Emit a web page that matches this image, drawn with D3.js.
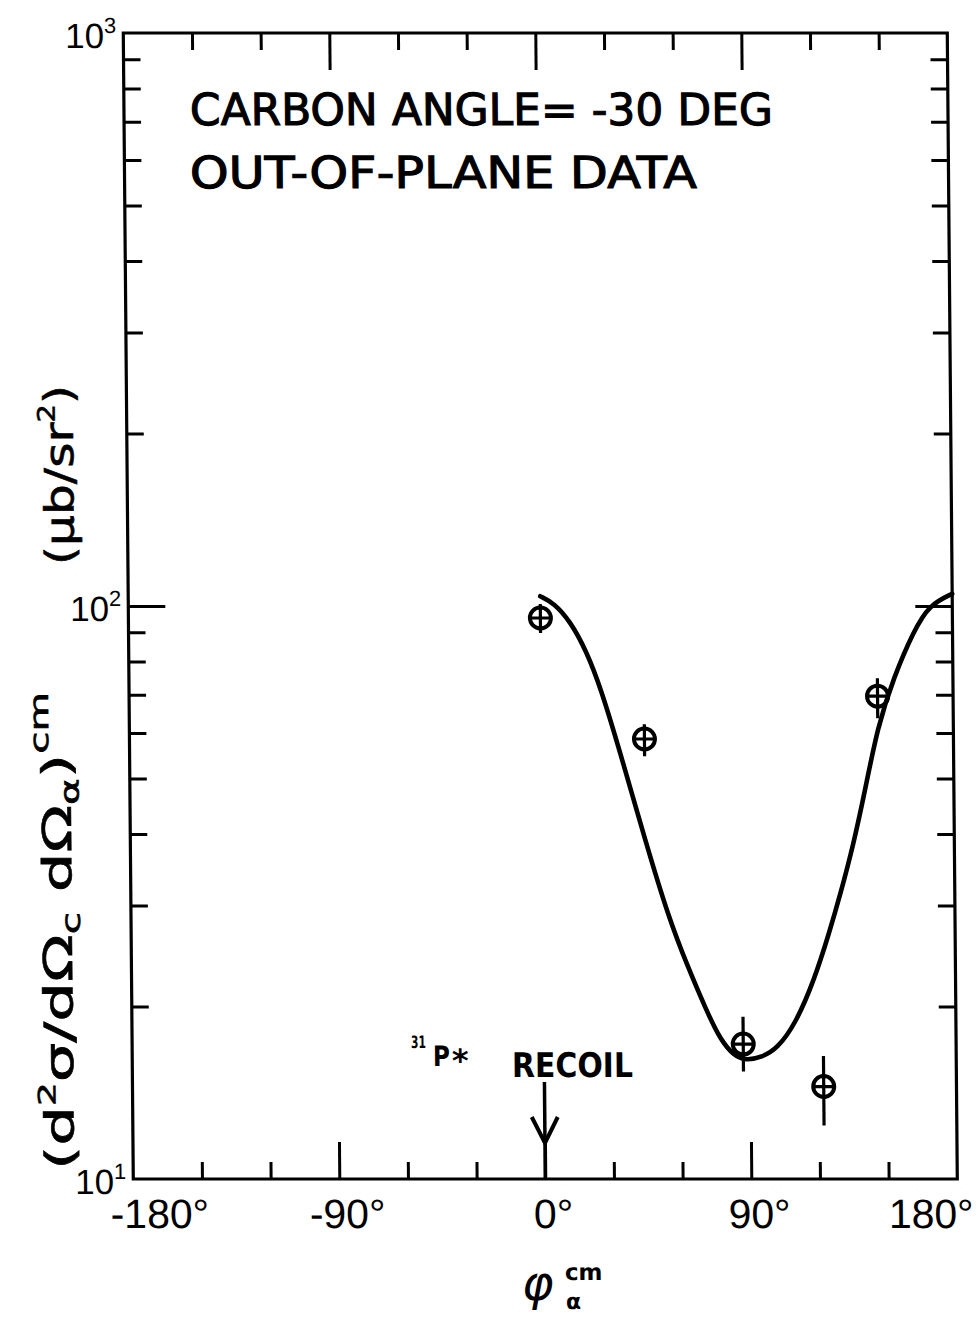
<!DOCTYPE html>
<html>
<head>
<meta charset="utf-8">
<script src="https://cdn.jsdelivr.net/npm/d3@7"></script>
<style>
  body { margin: 0; background: #fff; }
  svg { display: block; }
</style>
</head>
<body>
<svg id="chart" width="980" height="1318"></svg>
<script>
// Measured out-of-plane correlation data (phi in degrees, cross section in ub/sr^2)
const phiDeg    = [0, 45, 87, 122, 147];
const sigma     = [95.3, 58.6, 17.2, 14.5, 69.6];
const sigmaLo   = [89.7, 54.7, 15.4, 12.4, 63.7];
const sigmaHi   = [100.8, 62.2, 19.2, 16.4, 74.8];

// Theoretical curve
const curvePhi   = [0, 6, 13, 20, 26, 34, 45, 55, 63, 71, 77, 83, 88,
                    95, 102, 110, 118, 125, 130, 136, 141, 147, 154, 163, 170, 180];
const curveSigma = [104.0, 101.2, 94.1, 83.4, 72.1, 56.2, 38.9, 28.5, 23.5, 19.7, 17.5, 16.4, 16.1,
                    16.3, 16.9, 18.7, 22.1, 26.9, 31.4, 38.5, 47.3, 61.7, 74.8, 90.4, 100.5, 105.0];

// Axes
const xDomain      = [-180, 180];
const xMajorTicks  = [-90, 0, 90];
const xMinorTicks  = [-150, -120, -60, -30, 30, 60, 120, 150];
const xTickLabels  = [-180, -90, 0, 90, 180];
const yDomain      = [10, 1000];
const yDecadeTicks = [100];
const yMinorTicks  = [20, 30, 40, 50, 60, 70, 80, 90, 200, 300, 400, 500, 600, 700, 800, 900];
const yTickLabels  = [{ base: "10", exp: "1", v: 10 }, { base: "10", exp: "2", v: 100 }, { base: "10", exp: "3", v: 1000 }];

// Annotations
const titleLines = ["CARBON ANGLE= -30 DEG", "OUT-OF-PLANE DATA"];
const recoilPhi  = 0;
const recoilText = "RECOIL";

// The whole sheet leans very slightly to the right
const SKEW = 0.5;
const K = Math.tan(SKEW * Math.PI / 180);
const ux = (xa, ya) => xa - K * ya;

const svg = d3.select("#chart");
svg.append("rect").attr("width", 980).attr("height", 1318).attr("fill", "#fff");
const g = svg.append("g").attr("transform", `skewX(${SKEW})`);

const x = d3.scaleLinear().domain(xDomain).range([123, 947]);
const y = d3.scaleLog().domain(yDomain).range([1179, 33]);

const INK = "#000";

// ---- ticks (all pointing inward) ----
function styleAxis(sel) {
  sel.select(".domain").remove();
  sel.selectAll(".tick line").attr("stroke", INK).attr("stroke-width", 3);
  sel.selectAll(".tick text").remove();
}
const MINOR = 17, MAJOR = 37;
[[xMinorTicks, MINOR], [xMajorTicks, MAJOR]].forEach(([vals, len]) => {
  g.append("g").attr("transform", `translate(0,${y(yDomain[0])})`)
    .call(d3.axisBottom(x).tickValues(vals).tickSize(-len).tickFormat(""))
    .call(styleAxis);
  g.append("g").attr("transform", `translate(0,${y(yDomain[1])})`)
    .call(d3.axisTop(x).tickValues(vals).tickSize(-len).tickFormat(""))
    .call(styleAxis);
});
[[yMinorTicks, MINOR], [yDecadeTicks, MAJOR]].forEach(([vals, len]) => {
  g.append("g").attr("transform", `translate(${x(xDomain[0])},0)`)
    .call(d3.axisLeft(y).tickValues(vals).tickSize(-len).tickFormat(""))
    .call(styleAxis);
  g.append("g").attr("transform", `translate(${x(xDomain[1])},0)`)
    .call(d3.axisRight(y).tickValues(vals).tickSize(-len).tickFormat(""))
    .call(styleAxis);
});

// ---- frame ----
g.append("rect")
  .attr("x", x(xDomain[0])).attr("y", y(yDomain[1]))
  .attr("width", x(xDomain[1]) - x(xDomain[0]))
  .attr("height", y(yDomain[0]) - y(yDomain[1]))
  .attr("fill", "none").attr("stroke", INK).attr("stroke-width", 3.2);

// ---- x tick labels ----
const xl = g.append("g").attr("font-family", "'Liberation Sans', Arial, sans-serif")
  .attr("font-size", 41).attr("fill", INK);
xTickLabels.forEach(v => {
  const yb = 1228;
  let anchor = "middle", xx = x(v) + 8;
  if (v === xDomain[0]) { anchor = "start"; xx = x(v) - 23; }
  if (v === xDomain[1]) { anchor = "end"; xx = x(v) + 16; }
  xl.append("text").attr("x", xx).attr("y", yb).attr("text-anchor", anchor)
    .text((v < 0 ? "-" : "") + Math.abs(v) + "\u00B0");
});

// ---- y tick labels ----
const yl = g.append("g").attr("font-family", "'Liberation Sans', Arial, sans-serif").attr("fill", INK);
yTickLabels.forEach(d => {
  const t = yl.append("text").attr("x", x(xDomain[0]) - 7).attr("y", y(d.v) + 15)
    .attr("text-anchor", "end").attr("font-size", 35);
  t.append("tspan").text(d.base);
  t.append("tspan").attr("font-size", 22).attr("dy", -15).text(d.exp);
});

// ---- title (lettering-guide weight: regular glyphs with a thin outline) ----
const titleFont = "'DejaVu Sans', Verdana, sans-serif";
[[titleLines[0], 125, 583], [titleLines[1], 188, 507]].forEach(([s, yb, len]) => {
  g.append("text").attr("x", ux(190, yb)).attr("y", yb)
    .attr("font-family", titleFont).attr("font-size", 44).attr("fill", INK)
    .attr("stroke", INK).attr("stroke-width", 1.1)
    .attr("textLength", len).attr("lengthAdjust", "spacingAndGlyphs")
    .text(s);
});

// ---- y axis title (rotated) ----
const yt1 = g.append("text")
  .attr("transform", `translate(${ux(74, 1170)},1170) rotate(-90)`)
  .attr("font-family", titleFont).attr("font-size", 40).attr("fill", INK)
  .attr("stroke", INK).attr("stroke-width", 0.6)
  .attr("textLength", 478).attr("lengthAdjust", "spacingAndGlyphs");
[["(d", 0, 40], ["2", -18, 24], ["\u03C3/d\u03A9", 18, 40], ["c", 8, 26], [" d\u03A9", -8, 40],
 ["\u03B1", 8, 26], [")", -8, 40], ["cm", -22, 26]].forEach(([s, dy, fs]) => {
  yt1.append("tspan").attr("dy", dy).attr("font-size", fs).text(s);
});
const yt2 = g.append("text")
  .attr("transform", `translate(${ux(74, 565)},565) rotate(-90)`)
  .attr("font-family", titleFont).attr("font-size", 40).attr("fill", INK)
  .attr("stroke", INK).attr("stroke-width", 0.6)
  .attr("textLength", 180).attr("lengthAdjust", "spacingAndGlyphs");
[["(\u03BCb/sr", 0, 40], ["2", -18, 24], [")", 18, 40]].forEach(([s, dy, fs]) => {
  yt2.append("tspan").attr("dy", dy).attr("font-size", fs).text(s);
});

// ---- x axis title ----
g.append("text").attr("x", ux(522, 1300)).attr("y", 1300)
  .attr("font-family", titleFont).attr("font-style", "italic").attr("font-size", 48).attr("fill", INK)
  .text("\u03C6");
g.append("text").attr("x", ux(565, 1280)).attr("y", 1280)
  .attr("font-family", titleFont).attr("font-weight", "bold").attr("font-size", 23).attr("fill", INK)
  .text("cm");
g.append("text").attr("x", ux(566, 1309)).attr("y", 1309)
  .attr("font-family", titleFont).attr("font-weight", "bold").attr("font-size", 22).attr("fill", INK)
  .text("\u03B1");

// ---- recoil marker ----
const xr = x(recoilPhi);
g.append("text").attr("x", ux(411, 1048)).attr("y", 1048)
  .attr("font-family", titleFont).attr("font-weight", "bold").attr("font-size", 17).attr("fill", INK)
  .attr("textLength", 15).attr("lengthAdjust", "spacingAndGlyphs")
  .text("31");
g.append("text").attr("x", ux(433, 1066)).attr("y", 1066)
  .attr("font-family", titleFont).attr("font-weight", "bold").attr("font-size", 28).attr("fill", INK)
  .attr("textLength", 17).attr("lengthAdjust", "spacingAndGlyphs")
  .text("P");
g.append("text").attr("x", ux(452, 1072)).attr("y", 1072)
  .attr("font-family", titleFont).attr("font-weight", "bold").attr("font-size", 32).attr("fill", INK)
  .text("*");
g.append("text").attr("x", ux(512, 1077)).attr("y", 1077)
  .attr("font-family", titleFont).attr("font-weight", "bold").attr("font-size", 34).attr("fill", INK)
  .attr("textLength", 121).attr("lengthAdjust", "spacingAndGlyphs")
  .text(recoilText);
g.append("line").attr("x1", xr).attr("x2", xr).attr("y1", 1082).attr("y2", y(yDomain[0]))
  .attr("stroke", INK).attr("stroke-width", 3.5);
g.append("path")
  .attr("d", `M${xr - 13},1117 L${xr},1143 L${xr + 13},1117`)
  .attr("fill", "none").attr("stroke", INK).attr("stroke-width", 4).attr("stroke-linejoin", "miter");

// ---- theory curve ----
const curveData = curvePhi.map((p, i) => [p, curveSigma[i]]);
g.append("path").datum(curveData)
  .attr("d", d3.line().x(d => x(d[0])).y(d => y(d[1])).curve(d3.curveBasis))
  .attr("fill", "none").attr("stroke", INK).attr("stroke-width", 4.6).attr("stroke-linecap", "round");

// ---- data points: circle with cross and vertical error bar ----
const pts = phiDeg.map((p, i) => ({ p, v: sigma[i], lo: sigmaLo[i], hi: sigmaHi[i] }));
const R = 10.5;
const pg = g.append("g").selectAll("g").data(pts).join("g");
pg.append("line")
  .attr("x1", d => x(d.p)).attr("x2", d => x(d.p))
  .attr("y1", d => Math.min(y(d.hi), y(d.v) - R - 3)).attr("y2", d => Math.max(y(d.lo), y(d.v) + R + 3))
  .attr("stroke", INK).attr("stroke-width", 3.2);
pg.append("circle").attr("cx", d => x(d.p)).attr("cy", d => y(d.v)).attr("r", R)
  .attr("fill", "none").attr("stroke", INK).attr("stroke-width", 4);
pg.append("line")
  .attr("x1", d => x(d.p) - R).attr("x2", d => x(d.p) + R)
  .attr("y1", d => y(d.v)).attr("y2", d => y(d.v))
  .attr("stroke", INK).attr("stroke-width", 3.2);
</script>
</body>
</html>
